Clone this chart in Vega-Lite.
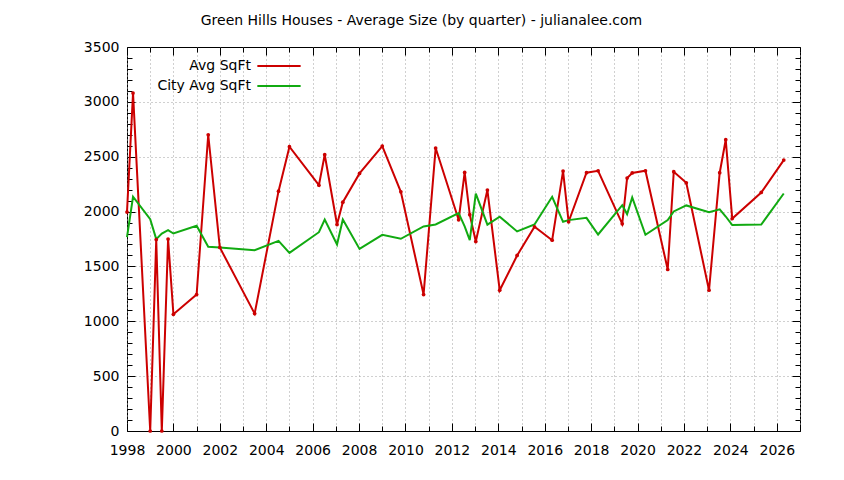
{
  "$schema": "https://vega.github.io/schema/vega-lite/v6.json",
  "width": 673,
  "height": 384,
  "autosize": {"type": "none"},
  "padding": {"left": 127, "top": 47, "right": 44, "bottom": 49},
  "background": "white",
  "config": {
    "view": {"stroke": "black", "strokeWidth": 1},
    "font": "DejaVu Sans",
    "axis": {"domain": false, "labelColor": "black", "labelFontSize": 14, "tickColor": "black", "gridColor": "#a0a0a0", "gridDash": [1, 3], "gridWidth": 1}
  },
  "title": {"text": "Green Hills Houses - Average Size (by quarter) - julianalee.com", "fontSize": 14, "fontWeight": "normal", "color": "black", "anchor": "middle", "dx": -42, "offset": 12},
  "data": {"values": [
    {"year": 1998.0, "sqft": 1995, "series": "Avg SqFt"},
    {"year": 1998.26, "sqft": 3080, "series": "Avg SqFt"},
    {"year": 1999.0, "sqft": 0, "series": "Avg SqFt"},
    {"year": 1999.26, "sqft": 1745, "series": "Avg SqFt"},
    {"year": 1999.5, "sqft": 0, "series": "Avg SqFt"},
    {"year": 1999.77, "sqft": 1750, "series": "Avg SqFt"},
    {"year": 2000.0, "sqft": 1064, "series": "Avg SqFt"},
    {"year": 2001.0, "sqft": 1244, "series": "Avg SqFt"},
    {"year": 2001.5, "sqft": 2700, "series": "Avg SqFt"},
    {"year": 2002.0, "sqft": 1673, "series": "Avg SqFt"},
    {"year": 2003.5, "sqft": 1070, "series": "Avg SqFt"},
    {"year": 2004.53, "sqft": 2186, "series": "Avg SqFt"},
    {"year": 2005.0, "sqft": 2591, "series": "Avg SqFt"},
    {"year": 2006.27, "sqft": 2241, "series": "Avg SqFt"},
    {"year": 2006.52, "sqft": 2518, "series": "Avg SqFt"},
    {"year": 2007.05, "sqft": 1882, "series": "Avg SqFt"},
    {"year": 2007.3, "sqft": 2086, "series": "Avg SqFt"},
    {"year": 2008.02, "sqft": 2348, "series": "Avg SqFt"},
    {"year": 2009.0, "sqft": 2597, "series": "Avg SqFt"},
    {"year": 2009.8, "sqft": 2180, "series": "Avg SqFt"},
    {"year": 2010.78, "sqft": 1244, "series": "Avg SqFt"},
    {"year": 2011.3, "sqft": 2579, "series": "Avg SqFt"},
    {"year": 2012.29, "sqft": 1925, "series": "Avg SqFt"},
    {"year": 2012.55, "sqft": 2357, "series": "Avg SqFt"},
    {"year": 2012.77, "sqft": 1972, "series": "Avg SqFt"},
    {"year": 2013.03, "sqft": 1727, "series": "Avg SqFt"},
    {"year": 2013.53, "sqft": 2196, "series": "Avg SqFt"},
    {"year": 2014.06, "sqft": 1283, "series": "Avg SqFt"},
    {"year": 2014.81, "sqft": 1600, "series": "Avg SqFt"},
    {"year": 2015.56, "sqft": 1861, "series": "Avg SqFt"},
    {"year": 2016.32, "sqft": 1739, "series": "Avg SqFt"},
    {"year": 2016.79, "sqft": 2369, "series": "Avg SqFt"},
    {"year": 2017.03, "sqft": 1907, "series": "Avg SqFt"},
    {"year": 2017.8, "sqft": 2354, "series": "Avg SqFt"},
    {"year": 2018.3, "sqft": 2372, "series": "Avg SqFt"},
    {"year": 2019.34, "sqft": 1888, "series": "Avg SqFt"},
    {"year": 2019.55, "sqft": 2305, "series": "Avg SqFt"},
    {"year": 2019.77, "sqft": 2352, "series": "Avg SqFt"},
    {"year": 2020.34, "sqft": 2372, "series": "Avg SqFt"},
    {"year": 2021.3, "sqft": 1472, "series": "Avg SqFt"},
    {"year": 2021.56, "sqft": 2363, "series": "Avg SqFt"},
    {"year": 2022.1, "sqft": 2262, "series": "Avg SqFt"},
    {"year": 2023.08, "sqft": 1283, "series": "Avg SqFt"},
    {"year": 2023.54, "sqft": 2354, "series": "Avg SqFt"},
    {"year": 2023.8, "sqft": 2655, "series": "Avg SqFt"},
    {"year": 2024.08, "sqft": 1936, "series": "Avg SqFt"},
    {"year": 2025.33, "sqft": 2174, "series": "Avg SqFt"},
    {"year": 2026.3, "sqft": 2469, "series": "Avg SqFt"},
    {"year": 1998.0, "sqft": 1768, "series": "City Avg SqFt"},
    {"year": 1998.26, "sqft": 2135, "series": "City Avg SqFt"},
    {"year": 1999.0, "sqft": 1930, "series": "City Avg SqFt"},
    {"year": 1999.26, "sqft": 1749, "series": "City Avg SqFt"},
    {"year": 1999.5, "sqft": 1799, "series": "City Avg SqFt"},
    {"year": 1999.77, "sqft": 1831, "series": "City Avg SqFt"},
    {"year": 2000.0, "sqft": 1800, "series": "City Avg SqFt"},
    {"year": 2001.0, "sqft": 1870, "series": "City Avg SqFt"},
    {"year": 2001.5, "sqft": 1679, "series": "City Avg SqFt"},
    {"year": 2002.0, "sqft": 1673, "series": "City Avg SqFt"},
    {"year": 2003.5, "sqft": 1648, "series": "City Avg SqFt"},
    {"year": 2004.53, "sqft": 1733, "series": "City Avg SqFt"},
    {"year": 2005.0, "sqft": 1624, "series": "City Avg SqFt"},
    {"year": 2006.27, "sqft": 1812, "series": "City Avg SqFt"},
    {"year": 2006.52, "sqft": 1928, "series": "City Avg SqFt"},
    {"year": 2007.05, "sqft": 1700, "series": "City Avg SqFt"},
    {"year": 2007.3, "sqft": 1928, "series": "City Avg SqFt"},
    {"year": 2008.02, "sqft": 1660, "series": "City Avg SqFt"},
    {"year": 2009.0, "sqft": 1788, "series": "City Avg SqFt"},
    {"year": 2009.8, "sqft": 1752, "series": "City Avg SqFt"},
    {"year": 2010.78, "sqft": 1864, "series": "City Avg SqFt"},
    {"year": 2011.3, "sqft": 1882, "series": "City Avg SqFt"},
    {"year": 2012.29, "sqft": 1986, "series": "City Avg SqFt"},
    {"year": 2012.55, "sqft": 1865, "series": "City Avg SqFt"},
    {"year": 2012.77, "sqft": 1740, "series": "City Avg SqFt"},
    {"year": 2013.03, "sqft": 2163, "series": "City Avg SqFt"},
    {"year": 2013.53, "sqft": 1881, "series": "City Avg SqFt"},
    {"year": 2014.06, "sqft": 1953, "series": "City Avg SqFt"},
    {"year": 2014.81, "sqft": 1819, "series": "City Avg SqFt"},
    {"year": 2015.56, "sqft": 1882, "series": "City Avg SqFt"},
    {"year": 2016.32, "sqft": 2135, "series": "City Avg SqFt"},
    {"year": 2016.79, "sqft": 1907, "series": "City Avg SqFt"},
    {"year": 2017.03, "sqft": 1922, "series": "City Avg SqFt"},
    {"year": 2017.8, "sqft": 1943, "series": "City Avg SqFt"},
    {"year": 2018.3, "sqft": 1791, "series": "City Avg SqFt"},
    {"year": 2019.34, "sqft": 2058, "series": "City Avg SqFt"},
    {"year": 2019.55, "sqft": 1977, "series": "City Avg SqFt"},
    {"year": 2019.77, "sqft": 2128, "series": "City Avg SqFt"},
    {"year": 2020.34, "sqft": 1788, "series": "City Avg SqFt"},
    {"year": 2021.3, "sqft": 1922, "series": "City Avg SqFt"},
    {"year": 2021.56, "sqft": 2001, "series": "City Avg SqFt"},
    {"year": 2022.1, "sqft": 2056, "series": "City Avg SqFt"},
    {"year": 2023.08, "sqft": 1994, "series": "City Avg SqFt"},
    {"year": 2023.54, "sqft": 2020, "series": "City Avg SqFt"},
    {"year": 2023.8, "sqft": 1955, "series": "City Avg SqFt"},
    {"year": 2024.08, "sqft": 1877, "series": "City Avg SqFt"},
    {"year": 2025.33, "sqft": 1882, "series": "City Avg SqFt"},
    {"year": 2026.3, "sqft": 2165, "series": "City Avg SqFt"}
  ]},
  "layer": [
    {
      "transform": [{"filter": "datum.series === 'Avg SqFt'"}],
      "mark": {"type": "line", "strokeWidth": 2},
      "encoding": {
        "x": {"field": "year", "type": "quantitative", "title": null,
          "scale": {"domain": [1998, 2027], "nice": false, "zero": false},
          "axis": {"orient": "bottom", "values": [1998,1999,2000,2001,2002,2003,2004,2005,2006,2007,2008,2009,2010,2011,2012,2013,2014,2015,2016,2017,2018,2019,2020,2021,2022,2023,2024,2025,2026,2027],
            "labelExpr": "datum.value % 2 === 0 ? format(datum.value, 'd') : ''",
            "grid": true, "tickSize": {"condition": {"test": "datum.value % 2 === 0", "value": -8}, "value": -5},
            "labelPadding": 20, "labelFlush": false, "labelOverlap": false}},
        "y": {"field": "sqft", "type": "quantitative", "title": null,
          "scale": {"domain": [0, 3500], "nice": false, "zero": true},
          "axis": {"orient": "left", "values": [0,100,200,300,400,500,600,700,800,900,1000,1100,1200,1300,1400,1500,1600,1700,1800,1900,2000,2100,2200,2300,2400,2500,2600,2700,2800,2900,3000,3100,3200,3300,3400,3500],
            "labelExpr": "datum.value % 500 === 0 ? format(datum.value, 'd') : ''",
            "grid": true, "gridOpacity": {"condition": {"test": "datum.value % 500 === 0 && datum.value > 0 && datum.value < 3500", "value": 1}, "value": 0},
            "tickSize": {"condition": {"test": "datum.value % 500 === 0", "value": -8}, "value": -5},
            "labelPadding": 16, "labelFlush": false, "labelOverlap": false}},
        "color": {"field": "series", "type": "nominal",
          "scale": {"domain": ["Avg SqFt", "City Avg SqFt"], "range": ["#cc0000", "#11aa11"]},
          "legend": {"orient": "none", "legendX": 142, "legendY": 9, "title": null, "symbolType": "M-2.5,0H2.5", "symbolSize": 300, "symbolStrokeWidth": 2, "labelAlign": "right", "labelOffset": -38, "labelFontSize": 14, "labelColor": "black", "rowPadding": 3, "labelLimit": 300}}
      }
    },
    {
      "transform": [{"filter": "datum.series === 'City Avg SqFt'"}],
      "mark": {"type": "line", "strokeWidth": 2},
      "encoding": {
        "x": {"field": "year", "type": "quantitative", "axis": null},
        "y": {"field": "sqft", "type": "quantitative", "axis": null},
        "color": {"field": "series", "type": "nominal"}
      }
    },
    {
      "transform": [{"filter": "datum.series === 'Avg SqFt'"}],
      "mark": {"type": "point", "filled": true, "shape": "circle", "size": 14, "opacity": 1},
      "encoding": {
        "x": {"field": "year", "type": "quantitative",
          "axis": {"orient": "top", "values": [1998,1999,2000,2001,2002,2003,2004,2005,2006,2007,2008,2009,2010,2011,2012,2013,2014,2015,2016,2017,2018,2019,2020,2021,2022,2023,2024,2025,2026,2027], "labels": false, "grid": false, "title": null,
            "tickSize": {"condition": {"test": "datum.value % 2 === 0", "value": -8}, "value": -5}}},
        "y": {"field": "sqft", "type": "quantitative",
          "axis": {"orient": "right", "values": [0,100,200,300,400,500,600,700,800,900,1000,1100,1200,1300,1400,1500,1600,1700,1800,1900,2000,2100,2200,2300,2400,2500,2600,2700,2800,2900,3000,3100,3200,3300,3400,3500], "labels": false, "grid": false, "title": null,
            "tickSize": {"condition": {"test": "datum.value % 500 === 0", "value": -8}, "value": -5}}},
        "color": {"value": "#cc0000"}
      }
    }
  ],
  "resolve": {"axis": {"x": "independent", "y": "independent"}}
}
